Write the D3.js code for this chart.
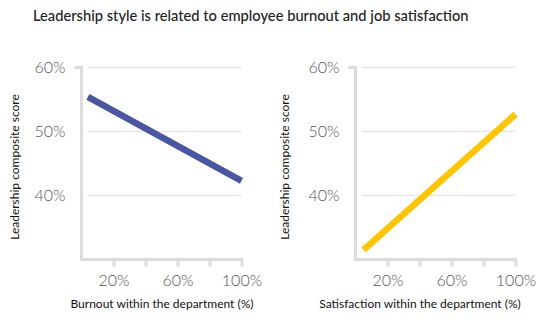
<!DOCTYPE html>
<html><head><meta charset="utf-8">
<script src="https://cdn.jsdelivr.net/npm/d3@7"></script>
<style>
body{margin:0;background:#fff;}
svg{display:block;font-family:Lato,"Noto Sans",sans-serif;}
</style></head>
<body><svg id="c" width="558" height="323"></svg>
<script>
const title = "Leadership style is related to employee burnout and job satisfaction";
const yTitle = "Leadership composite score";
const xTitles = ["Burnout within the department (%)", "Satisfaction within the department (%)"];
const yTicks = [40, 50, 60];
const xTicks = [20, 40, 60, 80, 100];
const xLabelTicks = [20, 60, 100];
const burnoutX = [4, 100];
const burnoutY = [55.4, 42.3];
const satisfactionX = [5, 100];
const satisfactionY = [31.5, 52.7];
const colors = ["#4a55a3", "#ffc500"];

(function () {
const svg = d3.select("#c");
svg.append("text").attr("x", 33).attr("y", 21).attr("font-size", 14.7).attr("font-weight", 500)
  .attr("fill", "#222").text(title);

const panels = [
  {x0: 81.5, xs: burnoutX, ys: burnoutY, color: colors[0], ytx: 19, xtc: 162, xt: xTitles[0]},
  {x0: 355.5, xs: satisfactionX, ys: satisfactionY, color: colors[1], ytx: 289, xtc: 420, xt: xTitles[1]}
];
const plotTop = 67.5, plotBottom = 259.5, w = 160;
const axisCol = "#dcdcdc";

panels.forEach(p => {
  const x = d3.scaleLinear().domain([0, 100]).range([p.x0, p.x0 + w]);
  const y = d3.scaleLinear().domain([30, 60]).range([plotBottom, plotTop]);
  const g = svg.append("g");
  g.selectAll(".grid").data(yTicks).join("line")
    .attr("x1", p.x0 + 6).attr("x2", x(100))
    .attr("y1", d => y(d)).attr("y2", d => y(d))
    .attr("stroke", "#e6e6e6").attr("stroke-width", 1.3);
  const ya = g.append("g").attr("transform", `translate(${p.x0},0)`)
    .call(d3.axisLeft(y).tickValues(yTicks).tickSize(0).tickPadding(16).tickFormat(d => d + "%"));
  ya.select(".domain").remove();
  ya.selectAll("text").attr("font-size", 16).attr("font-weight", 300).attr("fill", "#555")
    .attr("font-family", "Lato, sans-serif");
  g.append("path").attr("d", `M${p.x0 - 7},${y(60)}H${p.x0}V${y(30)}`)
    .attr("fill", "none").attr("stroke", axisCol).attr("stroke-width", 3);
  const xa = g.append("g").attr("transform", `translate(0,${plotBottom})`)
    .call(d3.axisBottom(x).tickValues(xTicks).tickSize(7).tickSizeOuter(0).tickPadding(8)
      .tickFormat(d => xLabelTicks.includes(d) ? d + "%" : ""));
  xa.select(".domain").attr("stroke", axisCol).attr("stroke-width", 3).attr("d", `M${p.x0 - 1.5},0H${x(100) + 1.5}`);
  xa.selectAll("line").attr("stroke", axisCol).attr("stroke-width", 3);
  xa.selectAll("text").attr("font-size", 16).attr("font-weight", 300).attr("fill", "#555")
    .attr("font-family", "Lato, sans-serif");
  const pts = p.xs.map((v, i) => [v, p.ys[i]]);
  g.append("path").datum(pts)
    .attr("d", d3.line().x(d => x(d[0])).y(d => y(d[1])))
    .attr("fill", "none").attr("stroke", p.color).attr("stroke-width", 6.5);
  svg.append("text").attr("transform", `translate(${p.ytx},167) rotate(-90)`)
    .attr("text-anchor", "middle").attr("font-size", 12).attr("fill", "#111").text(yTitle);
  svg.append("text").attr("x", p.xtc).attr("y", 308).attr("text-anchor", "middle")
    .attr("font-size", 12).attr("fill", "#111").text(p.xt);
});
})();
</script></body></html>
